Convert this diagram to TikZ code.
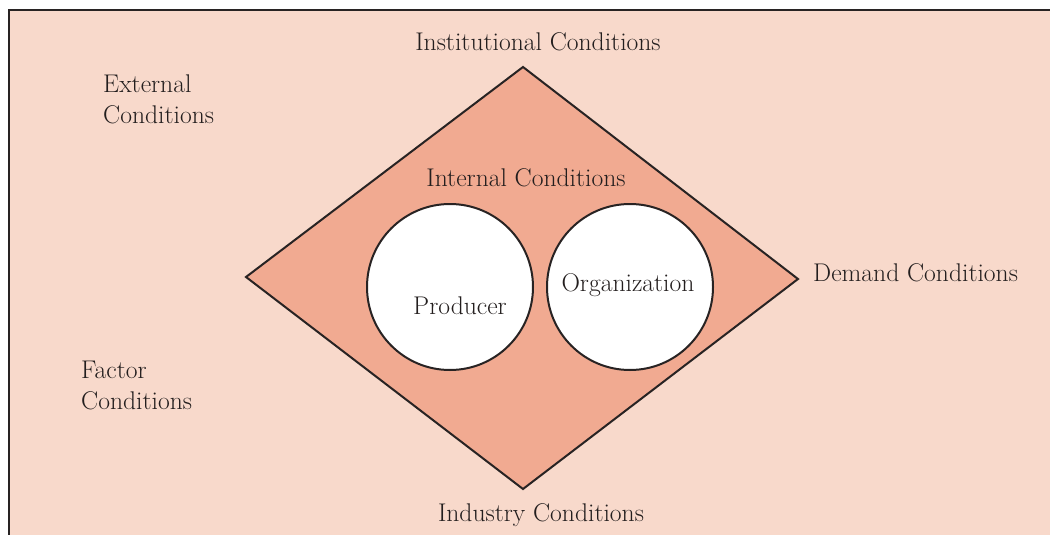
\documentclass[tikz,border=0pt]{standalone}
\usepackage{fontspec}
\definecolor{bgpeach}{RGB}{248,217,203}
\definecolor{diamondfill}{RGB}{241,170,145}
\definecolor{frameline}{RGB}{40,35,35}
\definecolor{textcol}{RGB}{35,30,30}
\begin{document}
\begin{tikzpicture}[x=1pt,y=-1pt,
  lbl/.style={font=\fontsize{25.6}{31}\selectfont, text=textcol, inner sep=0pt},
  lblleft/.style={lbl, align=left, anchor=west},
  circ/.style={circle, draw=frameline, line width=2pt, fill=white, minimum size=166pt, inner sep=0pt}]
\useasboundingbox (0,0) rectangle (1050,535);
\fill[white] (0,0) rectangle (1050,535);
\fill[bgpeach] (9,10) rectangle (1050,535);
\draw[frameline, line width=1.8pt] (9,540) -- (9,10) -- (1055,10);
\coordinate (top) at (523,67);
\coordinate (left) at (246,277);
\coordinate (right) at (798,279);
\coordinate (bottom) at (523,489);
\draw[fill=diamondfill, draw=frameline, line width=2pt, line join=miter] (top) -- (right) -- (bottom) -- (left) -- cycle;
\node[circ] (prod) at (450,287) {};
\node[circ] (org) at (630,287) {};
\node[lbl] (prodl) at (460,306) {Producer};
\node[lbl] (orgl) at (628,285) {Organization};
\node[lbl] (inst) at (538,42) {Institutional Conditions};
\node[lbl] (intl) at (526,178) {Internal Conditions};
\node[lbl] (ind) at (541,515) {Industry Conditions};
\node[lblleft] (dem) at (813,273) {Demand Conditions};
\node[lblleft] (ext) at (103,99.5) {External\\Conditions};
\node[lblleft] (fac) at (81,385.5) {Factor\\Conditions};
\end{tikzpicture}
\end{document}
